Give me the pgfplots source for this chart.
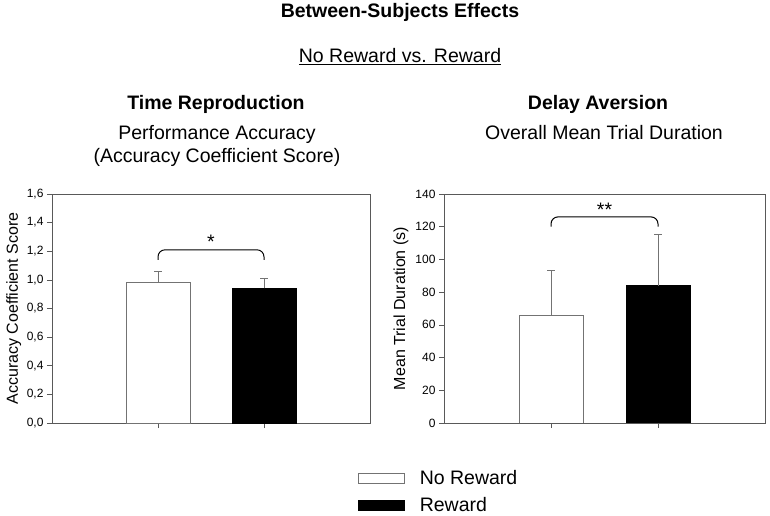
\documentclass[border=0pt]{standalone}
\usepackage{fontspec}
\setmainfont{Liberation Sans}
\usepackage{pgfplots}
\pgfplotsset{compat=1.18}
\pgfplotsset{
  panel/.style={
    scale only axis, width=318pt, height=229pt, anchor=south west,
    xmin=0, xmax=3, xtick={1,2}, xticklabels={}, ymin=0,
    axis line style={black!65, line width=0.7pt},
    tick style={black!65, line width=0.7pt},
    tick align=outside, tick pos=left, major tick length=5pt,
    ticklabel style={font=\fontsize{12}{14}\selectfont},
    /pgf/number format/assume math mode=true,
    ylabel style={font=\fontsize{16}{18}\selectfont, anchor=center},
    error bars/y dir=plus, error bars/y explicit,
    error bars/error bar style={black!55, line width=0.8pt},
    error bars/error mark options={black!55, mark size=4pt, line width=0.8pt, rotate=90},
  },
  boxlegend/.style={legend image code/.code={\draw[##1] (0pt,-5pt) rectangle (46pt,5pt);}},
  nobar/.style={ybar, bar width=64pt, fill=white, draw=black!55, line width=0.7pt},
  rewbar/.style={ybar, bar width=64pt, fill=black, draw=black, line width=0.7pt},
}
\begin{document}
\begin{tikzpicture}[x=1pt,y=1pt]
\path[use as bounding box] (0,0) rectangle (770,516);
% titles
\node[anchor=base, font=\bfseries\fontsize{19.5}{22}\selectfont] at (400,498) {Between-Subjects Effects};
\node[anchor=base, font=\fontsize{19.5}{22}\selectfont] at (400,453) {\underline{No Reward vs. Reward}};
\node[anchor=base, font=\bfseries\fontsize{19.5}{22}\selectfont] at (216,406) {Time Reproduction};
\node[anchor=base, font=\fontsize{19.5}{22}\selectfont] at (217,376) {Performance Accuracy};
\node[anchor=base, font=\fontsize{19.5}{22}\selectfont] at (217,353) {(Accuracy Coefficient Score)};
\node[anchor=base, font=\bfseries\fontsize{19.5}{22}\selectfont] at (598,406) {Delay Aversion};
\node[anchor=base, font=\fontsize{19.5}{22}\selectfont] at (604,376) {Overall Mean Trial Duration};

% left panel
\begin{axis}[panel, at={(52pt,93pt)}, ymax=1.6, ytick={0,0.2,...,1.6},
  yticklabel style={/pgf/number format/.cd, fixed, fixed zerofill, precision=1, use comma},
  ylabel={Accuracy Coefficient Score},
  ylabel style={at={(axis description cs:-0.12,0.5)}},
  boxlegend,
  legend style={at={(rel axis cs:0.962,-0.30)}, anchor=west, draw=none, fill=none,
    inner sep=0pt, row sep=8pt, column sep=13pt, font=\fontsize{19.5}{22}\selectfont},
  legend cell align=left]
\addplot[nobar] coordinates {(1,0.98) +- (0,0.08)};
\addlegendentry{No Reward}
\addplot[rewbar] coordinates {(2,0.94) +- (0,0.07)};
\addlegendentry{Reward}
\draw[black, line width=1pt, rounded corners=7pt]
  (axis cs:1,1.14) -- (axis cs:1,1.21) -- (axis cs:2,1.21) -- (axis cs:2,1.14);
\node[font=\fontsize{19.5}{22}\selectfont] at (axis cs:1.5,1.265) {*};
\end{axis}

% right panel
\begin{axis}[panel, at={(444pt,93pt)}, width=321pt, ymax=140, ytick={0,20,...,140},
  ylabel={Mean Trial Duration (s)},
  ylabel style={at={(axis description cs:-0.134,0.5)}}]
\addplot[nobar] coordinates {(1,66) +- (0,27)};
\addplot[rewbar] coordinates {(2,84) +- (0,31)};
\draw[black, line width=1pt, rounded corners=7pt]
  (axis cs:1,120) -- (axis cs:1,126) -- (axis cs:2,126) -- (axis cs:2,120);
\node[font=\fontsize{19.5}{22}\selectfont] at (axis cs:1.5,130.5) {**};
\end{axis}
\end{tikzpicture}
\end{document}
